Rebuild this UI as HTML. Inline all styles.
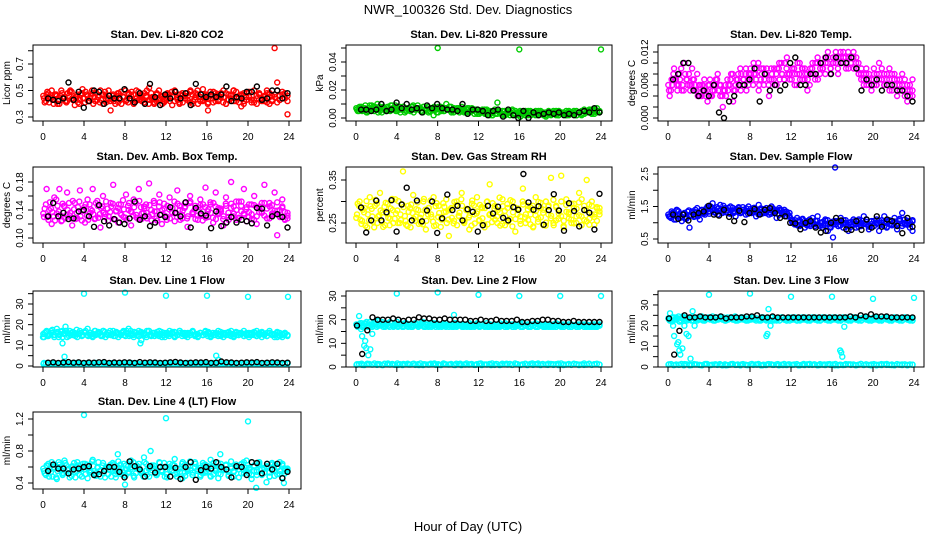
<!DOCTYPE html>
<html><head><meta charset="utf-8"><style>
html,body{margin:0;padding:0;background:#fff;}
svg{display:block;font-family:"Liberation Sans",sans-serif;}
</style></head><body>
<svg id="chart" width="936" height="540" viewBox="0 0 936 540">
<text x="468" y="14" text-anchor="middle" font-size="13">NWR_100326  Std. Dev. Diagnostics</text>
<text x="468" y="531" text-anchor="middle" font-size="13">Hour of Day (UTC)</text>
</svg>
<script>
const hourTicks = [0,4,8,12,16,20,24];

const co2Red = [0.44,0.47,0.41,0.50,0.43,0.46,0.40,0.48,0.45,0.42,0.49,0.44,0.39,0.47,0.43,0.51,0.41,0.46,0.44,0.48,0.42,0.45,0.50,0.40,0.46,0.43,0.35,0.47,0.44,0.41,0.49,0.45,0.42,0.48,0.46,0.40,0.50,0.43,0.47,0.41,0.45,0.52,0.44,0.40,0.48,0.43,0.46,0.42,0.47,0.45,0.39,0.50,0.44,0.41,0.48,0.46,0.43,0.49,0.40,0.45,0.47,0.42,0.51,0.44,0.35,0.46,0.41,0.48,0.43,0.45,0.50,0.40,0.47,0.44,0.42,0.49,0.45,0.38,0.48,0.43,0.46,0.41,0.50,0.44,0.47,0.42,0.45,0.48,0.40,0.46,0.82,0.56,0.43,0.49,0.44,0.32];
const co2RedA = [0.46,0.42,0.48,0.44,0.40,0.47,0.43,0.50,0.45,0.41,0.46,0.49,0.43,0.45,0.40,0.48,0.44,0.47,0.42,0.50,0.45,0.43,0.41,0.47,0.49,0.44,0.42,0.46,0.40,0.48,0.43,0.45,0.50,0.41,0.44,0.47,0.42,0.49,0.45,0.43,0.46,0.40,0.48,0.44,0.42,0.50,0.45,0.41,0.43,0.47,0.49,0.42,0.45,0.40,0.46,0.44,0.48,0.41,0.47,0.43,0.50,0.45,0.42,0.46,0.40,0.49,0.44,0.42,0.47,0.45,0.41,0.48,0.43,0.46,0.50,0.42,0.44,0.47,0.40,0.45,0.49,0.43,0.41,0.46,0.48,0.44,0.42,0.50,0.45,0.43,0.47,0.41,0.46,0.44,0.48,0.42];
const co2RedB = [0.41,0.49,0.45,0.43,0.47,0.40,0.46,0.44,0.42,0.48,0.50,0.43,0.45,0.41,0.47,0.44,0.49,0.42,0.46,0.40,0.48,0.45,0.43,0.47,0.41,0.50,0.44,0.42,0.46,0.48,0.40,0.45,0.43,0.47,0.49,0.41,0.44,0.46,0.42,0.48,0.50,0.43,0.45,0.41,0.47,0.44,0.40,0.46,0.48,0.42,0.45,0.49,0.43,0.47,0.41,0.44,0.46,0.50,0.42,0.48,0.40,0.45,0.43,0.47,0.41,0.44,0.49,0.46,0.42,0.48,0.45,0.40,0.43,0.47,0.50,0.44,0.41,0.46,0.42,0.48,0.45,0.49,0.43,0.40,0.47,0.44,0.46,0.41,0.48,0.42,0.45,0.50,0.43,0.47,0.44,0.46];
const co2Black = [0.44,0.43,0.42,0.44,0.56,0.43,0.49,0.37,0.42,0.50,0.49,0.40,0.46,0.44,0.44,0.51,0.44,0.41,0.48,0.40,0.55,0.45,0.39,0.47,0.44,0.49,0.44,0.48,0.39,0.55,0.47,0.45,0.47,0.45,0.47,0.53,0.42,0.45,0.44,0.49,0.49,0.53,0.43,0.44,0.50,0.50,0.44,0.48];

const presGreen = [0.006,0.008,0.005,0.007,0.004,0.009,0.006,0.008,0.010,0.005,0.007,0.006,0.008,0.005,0.007,0.009,0.006,0.004,0.008,0.006,0.007,0.005,0.009,0.006,0.007,0.005,0.008,0.006,0.004,0.007,0.002,0.006,0.008,0.005,0.007,0.010,0.006,0.004,0.007,0.005,0.006,0.008,0.004,0.006,0.005,0.007,0.003,0.006,0.005,0.004,0.006,0.003,0.005,0.002,0.006,0.011,0.004,0.005,0.003,0.004,0.002,0.005,0.003,0.004,0.001,0.003,0.005,0.002,0.004,0.003,0.005,0.002,0.004,0.003,0.001,0.004,0.002,0.003,0.005,0.002,0.004,0.003,0.002,0.004,0.003,0.005,0.002,0.004,0.003,0.006,0.004,0.005,0.003,0.006,0.004,0.005];
const presGreenA = [0.007,0.005,0.008,0.006,0.004,0.007,0.009,0.005,0.006,0.008,0.004,0.007,0.005,0.006,0.009,0.007,0.005,0.008,0.006,0.004,0.007,0.005,0.008,0.006,0.009,0.007,0.004,0.006,0.008,0.005,0.007,0.006,0.004,0.008,0.005,0.007,0.006,0.008,0.004,0.006,0.007,0.005,0.006,0.004,0.007,0.005,0.006,0.004,0.003,0.005,0.004,0.006,0.002,0.004,0.005,0.003,0.004,0.002,0.005,0.003,0.004,0.006,0.002,0.003,0.005,0.004,0.002,0.003,0.005,0.004,0.002,0.003,0.005,0.004,0.002,0.003,0.004,0.005,0.003,0.002,0.004,0.003,0.005,0.002,0.004,0.003,0.005,0.004,0.002,0.003,0.005,0.004,0.006,0.003,0.005,0.004];
const presGreenB = [0.005,0.007,0.006,0.009,0.005,0.006,0.008,0.007,0.004,0.006,0.008,0.005,0.007,0.009,0.006,0.005,0.007,0.006,0.008,0.005,0.006,0.008,0.004,0.007,0.006,0.005,0.008,0.007,0.005,0.006,0.008,0.004,0.007,0.006,0.005,0.007,0.008,0.005,0.006,0.007,0.004,0.006,0.005,0.007,0.004,0.005,0.006,0.003,0.004,0.006,0.003,0.005,0.004,0.002,0.003,0.005,0.004,0.003,0.002,0.005,0.004,0.003,0.005,0.002,0.004,0.003,0.004,0.005,0.002,0.003,0.004,0.005,0.003,0.002,0.004,0.005,0.003,0.004,0.002,0.005,0.003,0.004,0.002,0.005,0.003,0.004,0.002,0.004,0.005,0.003,0.004,0.006,0.004,0.005,0.007,0.004];
const presOutX = [8,16,24];
const presOutY = [0.050,0.049,0.049];
const presBlack = [0.006,0.006,0.005,0.006,0.010,0.005,0.006,0.011,0.007,0.010,0.006,0.007,0.004,0.009,0.007,0.010,0.007,0.006,0.006,0.005,0.010,0.003,0.006,0.006,0.005,0.002,0.005,0.006,0.001,0.006,0.002,0.000,0.005,0.000,0.004,0.002,0.003,0.004,0.003,0.004,0.002,0.003,0.002,0.004,0.005,0.004,0.007,0.004];

const tempMag = [0.005,0.007,0.009,0.006,0.008,0.005,0.010,0.007,0.006,0.009,0.005,0.008,0.004,0.006,0.005,0.003,0.007,0.005,0.006,0.008,0.004,0.002,0.006,0.005,0.007,0.003,0.006,0.008,0.005,0.007,0.009,0.006,0.008,0.010,0.007,0.005,0.009,0.006,0.008,0.004,0.007,0.009,0.006,0.010,0.008,0.007,0.011,0.008,0.009,0.006,0.008,0.010,0.007,0.009,0.005,0.008,0.010,0.007,0.011,0.009,0.010,0.008,0.012,0.009,0.011,0.010,0.008,0.011,0.012,0.010,0.009,0.011,0.012,0.010,0.008,0.007,0.006,0.009,0.007,0.005,0.008,0.006,0.010,0.007,0.008,0.006,0.009,0.005,0.007,0.004,0.006,0.008,0.005,0.003,0.006,0.004];
const tempMagA = [0.006,0.005,0.008,0.007,0.006,0.009,0.005,0.007,0.008,0.006,0.007,0.005,0.006,0.004,0.007,0.005,0.006,0.004,0.005,0.007,0.006,0.004,0.005,0.007,0.006,0.008,0.005,0.007,0.009,0.006,0.008,0.007,0.009,0.006,0.008,0.010,0.007,0.009,0.008,0.006,0.009,0.007,0.008,0.009,0.010,0.007,0.009,0.008,0.007,0.009,0.006,0.008,0.009,0.007,0.008,0.006,0.009,0.008,0.010,0.008,0.009,0.011,0.010,0.008,0.010,0.011,0.009,0.012,0.010,0.011,0.012,0.010,0.011,0.009,0.010,0.008,0.007,0.008,0.006,0.007,0.009,0.006,0.008,0.007,0.006,0.008,0.007,0.006,0.008,0.005,0.007,0.006,0.004,0.006,0.005,0.007];
const tempMagB = [0.004,0.006,0.007,0.005,0.007,0.006,0.008,0.006,0.005,0.007,0.006,0.004,0.006,0.005,0.004,0.006,0.004,0.006,0.007,0.005,0.006,0.005,0.004,0.006,0.008,0.005,0.007,0.006,0.008,0.007,0.005,0.008,0.007,0.008,0.009,0.006,0.008,0.007,0.009,0.007,0.008,0.006,0.009,0.007,0.008,0.010,0.008,0.007,0.009,0.008,0.010,0.007,0.009,0.008,0.007,0.009,0.008,0.010,0.007,0.010,0.009,0.010,0.011,0.009,0.010,0.012,0.011,0.010,0.011,0.009,0.011,0.010,0.009,0.011,0.008,0.009,0.008,0.006,0.008,0.007,0.006,0.008,0.007,0.009,0.006,0.007,0.005,0.008,0.006,0.007,0.005,0.006,0.007,0.005,0.004,0.005];
const tempBlack = [0.007,0.008,0.010,0.010,0.005,0.004,0.005,0.004,0.006,0.001,0.000,0.003,0.004,0.006,0.006,0.007,0.009,0.003,0.008,0.005,0.006,0.005,0.006,0.010,0.011,0.006,0.006,0.008,0.008,0.010,0.011,0.008,0.011,0.010,0.010,0.011,0.009,0.005,0.007,0.006,0.007,0.005,0.006,0.006,0.005,0.005,0.004,0.003];

const boxMag = [0.130,0.170,0.140,0.120,0.158,0.135,0.170,0.125,0.145,0.165,0.132,0.118,0.150,0.128,0.168,0.140,0.122,0.155,0.136,0.170,0.128,0.146,0.115,0.160,0.134,0.125,0.150,0.176,0.138,0.122,0.148,0.130,0.162,0.140,0.118,0.155,0.133,0.170,0.127,0.145,0.136,0.178,0.125,0.150,0.138,0.162,0.120,0.142,0.130,0.158,0.136,0.124,0.168,0.140,0.128,0.150,0.116,0.160,0.134,0.146,0.126,0.155,0.138,0.172,0.130,0.148,0.122,0.165,0.136,0.142,0.118,0.158,0.130,0.180,0.145,0.126,0.152,0.138,0.170,0.124,0.148,0.134,0.160,0.120,0.145,0.137,0.176,0.128,0.150,0.135,0.165,0.104,0.140,0.155,0.126,0.132];
const boxMagA = [0.135,0.148,0.126,0.142,0.131,0.155,0.138,0.124,0.146,0.133,0.150,0.128,0.141,0.136,0.152,0.125,0.144,0.132,0.148,0.139,0.127,0.153,0.134,0.145,0.130,0.142,0.137,0.149,0.126,0.143,0.135,0.154,0.129,0.146,0.138,0.132,0.150,0.127,0.144,0.136,0.148,0.131,0.140,0.153,0.128,0.145,0.134,0.149,0.126,0.141,0.137,0.152,0.130,0.146,0.133,0.143,0.128,0.150,0.136,0.141,0.132,0.147,0.125,0.144,0.138,0.151,0.129,0.145,0.134,0.140,0.127,0.149,0.136,0.143,0.131,0.152,0.128,0.146,0.135,0.141,0.130,0.148,0.126,0.144,0.137,0.150,0.132,0.142,0.128,0.147,0.135,0.139,0.131,0.145,0.127,0.136];
const boxMagB = [0.142,0.130,0.151,0.137,0.125,0.146,0.133,0.149,0.128,0.140,0.136,0.153,0.127,0.144,0.131,0.139,0.148,0.126,0.141,0.134,0.150,0.129,0.143,0.136,0.152,0.131,0.145,0.127,0.139,0.148,0.133,0.141,0.126,0.150,0.137,0.144,0.129,0.153,0.135,0.142,0.128,0.147,0.134,0.138,0.125,0.151,0.140,0.132,0.146,0.128,0.143,0.135,0.149,0.126,0.139,0.145,0.131,0.152,0.137,0.127,0.144,0.133,0.148,0.129,0.141,0.136,0.150,0.127,0.143,0.138,0.131,0.146,0.126,0.149,0.135,0.140,0.129,0.152,0.133,0.144,0.137,0.127,0.147,0.131,0.142,0.136,0.150,0.128,0.145,0.133,0.139,0.151,0.130,0.143,0.137,0.128];
const boxBlack = [0.131,0.150,0.131,0.136,0.127,0.128,0.138,0.140,0.131,0.116,0.147,0.124,0.118,0.127,0.122,0.120,0.128,0.152,0.126,0.131,0.117,0.122,0.133,0.130,0.144,0.136,0.131,0.151,0.115,0.143,0.135,0.132,0.114,0.138,0.117,0.122,0.130,0.122,0.126,0.124,0.121,0.143,0.142,0.118,0.131,0.134,0.130,0.115];

const rhYellow = [0.270,0.300,0.255,0.285,0.240,0.310,0.265,0.290,0.250,0.320,0.275,0.245,0.295,0.260,0.280,0.305,0.250,0.270,0.370,0.255,0.290,0.240,0.315,0.265,0.280,0.250,0.300,0.235,0.285,0.270,0.310,0.245,0.290,0.260,0.275,0.305,0.220,0.285,0.255,0.300,0.265,0.320,0.250,0.280,0.235,0.295,0.270,0.310,0.255,0.285,0.240,0.300,0.340,0.265,0.290,0.250,0.275,0.305,0.245,0.285,0.260,0.300,0.230,0.280,0.265,0.330,0.250,0.290,0.270,0.240,0.310,0.260,0.285,0.245,0.300,0.270,0.355,0.250,0.290,0.260,0.360,0.240,0.305,0.275,0.250,0.295,0.265,0.320,0.245,0.290,0.350,0.260,0.300,0.270,0.255,0.285];
const rhYellowA = [0.262,0.290,0.248,0.275,0.301,0.256,0.283,0.240,0.295,0.268,0.252,0.288,0.271,0.245,0.306,0.260,0.279,0.250,0.293,0.266,0.243,0.285,0.273,0.255,0.298,0.262,0.247,0.281,0.270,0.302,0.253,0.289,0.264,0.241,0.296,0.276,0.258,0.284,0.249,0.292,0.267,0.305,0.254,0.280,0.263,0.244,0.291,0.272,0.257,0.287,0.246,0.299,0.269,0.252,0.283,0.265,0.309,0.248,0.278,0.294,0.259,0.242,0.286,0.270,0.255,0.300,0.263,0.282,0.247,0.290,0.268,0.253,0.297,0.274,0.244,0.288,0.261,0.304,0.256,0.279,0.266,0.243,0.292,0.271,0.258,0.285,0.250,0.298,0.265,0.281,0.254,0.293,0.269,0.246,0.287,0.277];
const rhYellowB = [0.295,0.258,0.281,0.244,0.270,0.289,0.253,0.304,0.265,0.279,0.241,0.297,0.262,0.284,0.250,0.272,0.301,0.257,0.287,0.246,0.276,0.293,0.260,0.282,0.248,0.270,0.306,0.255,0.285,0.264,0.243,0.296,0.273,0.258,0.288,0.250,0.280,0.262,0.299,0.245,0.274,0.290,0.256,0.283,0.268,0.302,0.249,0.277,0.292,0.261,0.285,0.247,0.271,0.296,0.258,0.280,0.244,0.289,0.266,0.253,0.303,0.275,0.259,0.284,0.248,0.293,0.270,0.257,0.286,0.242,0.278,0.299,0.263,0.281,0.251,0.291,0.267,0.245,0.287,0.272,0.300,0.255,0.276,0.261,0.295,0.249,0.283,0.268,0.305,0.257,0.279,0.246,0.290,0.264,0.284,0.270];
const rhBlack = [0.286,0.228,0.256,0.302,0.256,0.275,0.303,0.230,0.293,0.332,0.256,0.302,0.254,0.279,0.300,0.227,0.261,0.316,0.280,0.290,0.256,0.282,0.276,0.230,0.245,0.290,0.272,0.288,0.262,0.256,0.287,0.281,0.364,0.298,0.281,0.289,0.246,0.280,0.317,0.279,0.232,0.296,0.278,0.242,0.280,0.274,0.235,0.318];

const flowBlue = [1.20,1.35,1.10,1.40,1.25,1.05,1.30,1.15,0.85,1.35,1.20,1.45,1.10,1.30,1.25,1.50,1.35,1.60,1.40,1.25,1.55,1.35,1.45,1.30,1.50,1.35,1.20,1.45,1.30,1.40,1.25,1.50,1.35,1.45,1.20,1.55,1.40,1.30,1.45,1.25,1.50,1.35,1.15,1.45,1.30,1.40,1.20,1.30,1.05,0.95,1.15,0.90,1.10,0.85,1.05,0.95,1.15,0.90,1.20,1.00,0.85,1.10,0.75,0.95,0.55,1.05,0.90,1.15,0.85,1.00,0.75,0.95,1.10,0.85,1.05,0.90,1.20,0.95,0.80,1.05,0.90,1.10,0.75,1.00,1.20,0.85,1.05,0.95,1.15,0.80,1.10,1.30,0.95,1.05,0.85,0.75];
const flowBlueA = [1.25,1.15,1.30,1.10,1.35,1.20,1.28,1.12,1.38,1.22,1.18,1.32,1.26,1.40,1.30,1.45,1.28,1.42,1.32,1.48,1.36,1.30,1.44,1.38,1.28,1.46,1.34,1.40,1.30,1.48,1.36,1.28,1.42,1.32,1.38,1.26,1.44,1.34,1.30,1.40,1.28,1.42,1.36,1.24,1.38,1.30,1.34,1.22,1.10,1.02,0.95,1.08,0.98,1.05,0.92,1.10,1.00,0.96,1.06,0.90,1.02,0.94,1.08,0.88,1.00,0.95,1.05,0.92,0.98,1.08,0.90,1.02,0.94,1.06,0.88,1.00,0.96,1.10,0.92,1.04,0.90,0.98,1.06,0.94,1.02,0.88,1.08,0.96,1.00,0.92,1.05,0.98,1.10,0.94,1.02,1.08];
const flowBlueB = [1.18,1.30,1.22,1.38,1.15,1.26,1.12,1.34,1.24,1.30,1.40,1.20,1.36,1.28,1.42,1.34,1.50,1.38,1.30,1.44,1.40,1.52,1.32,1.46,1.38,1.30,1.42,1.48,1.34,1.40,1.44,1.36,1.30,1.46,1.40,1.34,1.28,1.42,1.36,1.32,1.44,1.30,1.38,1.40,1.26,1.34,1.28,1.18,1.00,1.08,0.92,1.04,1.12,0.96,1.02,0.90,0.98,1.06,0.94,1.00,0.92,1.06,0.98,0.85,1.04,0.96,0.90,1.02,1.08,0.94,1.00,0.88,1.04,0.96,1.10,0.92,0.98,1.02,0.88,0.96,1.06,1.00,0.94,1.08,0.90,1.02,0.96,0.92,1.04,0.98,1.12,0.90,1.00,1.06,0.96,1.04];
const flowOutX = [16.3];
const flowOutY = [2.7];
const flowBlack = [1.25,1.12,1.25,1.07,1.25,1.30,1.35,1.52,1.25,1.22,1.40,1.18,1.05,1.37,1.02,1.30,1.42,1.25,1.40,1.45,1.30,1.15,1.20,1.00,0.98,0.80,1.00,1.05,0.85,0.70,0.75,1.00,1.15,1.07,0.80,0.78,1.05,0.78,1.10,0.85,1.20,0.88,1.10,1.05,0.90,0.68,1.15,0.88];

const l1Cyan = [14,17,15,16,14,18,15,17,16,14,17,15,16,14,17,15,16,18,15,14,17,16,15,17,14,16,15,17,16,14,15,17,16,18,15,14,16,17,15,16,14,17,15,16,15,17,14,16,15,17,16,14,15,17,16,15,14,16,17,15,14,16,15,17,16,14,15,16,17,15,14,16,15,17,14,16,15,16,17,15,14,16,15,17,16,14,15,16,17,15,14,16,15,14,16,15];
const l1CyanA = [15.5,16.5,14.5,17,15,16,14,16.5,15.5,17,14.5,16,15,17.5,15.5,14.5,16.5,15,16,14.5,17,15.5,16,14.5,16.5,15,17,15.5,14.5,16,15,16.5,14.5,15.5,17,15,16,14.5,16.5,15.5,15,17,14.5,16,15.5,14.5,16.5,15,16,14.5,15.5,16.5,15,17,14.5,16,15.5,15,16.5,14.5,15.5,16,15,16.5,14.5,15.5,16,15,14.5,16.5,15.5,15,16,14.5,15.5,16.5,15,16,14.5,15.5,16,15,16.5,14.5,15.5,16,15,14.5,16,15.5,15,16.5,14.5,15.5,16,15];
const l1CyanB = [16,14.5,15.5,17.5,15,16.5,15.5,14,17,16,15,16.5,14.5,15.5,16,15,17,14.5,16,15.5,15,16.5,14.5,17,15.5,16,15,14.5,16.5,15.5,16,15,17,14.5,15.5,16.5,15,14.5,16,15.5,17,15,16,14.5,16.5,15.5,15,14,16,15.5,16.5,14.5,15,16,15.5,14.5,16,15,16.5,15.5,14.5,16,15,15.5,16.5,14.5,15,16,15.5,14.5,16,15,16.5,15.5,14.5,15,16,15.5,14.5,16,15,15.5,16,14.5,15,16.5,15.5,14.5,16,15,15.5,14,16,15,15.5,14.5];
const l1CyanLow = [1.5,1.0,1.2,0.8,1.3,1.0,1.4,0.9,1.2,1.0,1.5,0.8,1.1,1.3,0.9,1.2,1.0,1.4,0.8,1.1,1.3,0.9,1.2,1.0,1.4,0.8,1.1,1.3,0.9,1.2,1.0,1.5,0.8,1.1,1.3,0.9,1.2,1.0,1.4,0.8,1.1,1.3,0.9,1.2,1.0,1.4,0.8,1.1];
const l1CyanLow2 = [1.0,1.3,0.8,1.2,1.5,0.9,1.1,1.4,0.7,1.2,1.0,1.3,0.9,1.5,1.1,0.8,1.2,1.4,1.0,0.9,1.3,1.1,0.8,1.5,1.2,1.0,1.4,0.9,1.1,1.3,0.8,1.2,1.0,1.5,0.9,1.1,1.4,1.0,0.8,1.3,1.2,0.9,1.1,1.5,1.0,0.8,1.3,1.2,1.0,1.4,0.9,1.1,1.3,0.8,1.2,1.0,1.5,0.9,1.1,1.4,1.0,0.8,1.3,1.2,0.9,1.1,1.5,1.0,0.8,1.3,1.2,1.0,1.4,0.9,1.1,1.3,0.8,1.2,1.0,1.5,0.9,1.1,1.4,1.0,0.8,1.3,1.2,0.9,1.1,1.5,1.0,0.8,1.3,1.2,1.0,1.4];
const l1OutX = [0,1.9,2.1,2.2,4,8,9.5,9.6,12,16,16.9,17.1,20,23.9];
const l1OutY = [14,11,4.5,19,35,35.5,11,12.5,34,34,5,3,33.5,33.5];
const l1Black = [1.6,1.8,1.5,1.7,1.9,1.6,1.8,1.5,1.7,1.6,1.8,1.9,1.5,1.7,1.6,1.8,1.7,1.5,1.9,1.6,1.8,1.7,1.5,1.6,1.8,2.0,1.7,1.5,1.6,1.8,1.7,1.9,1.5,1.6,2.2,1.8,1.7,1.5,1.6,1.8,1.7,1.9,1.5,1.6,1.8,1.7,1.5,1.6];

const l2Cyan = [17.5,18,17,18.5,17.5,19,17,18,19.5,17.5,18,17,18.5,19,17.5,18,17,18.5,17.5,18,17,18,17.5,18.5,17,18,17.5,18,17,18.5,17.5,18,17,18,17.5,18.5,17,18,17.5,17,18,17.5,18,17,18.5,17.5,17,18,17.5,18,17,17.5,18,17,17.5,18,17,17.5,18.5,17,17.5,18,17,17.5,18,17,17.5,18,17,17.5,17,18,17.5,17,17.5,18,17,17.5,17,18,17.5,17,17.5,18,17,17.5,17,17.5,18,17,17.5,17,17.5,18,17,17.5];
const l2CyanA = [18,17.5,18.5,17,19,17.5,18,18.5,17,18,19,17.5,18,17,18.5,17.5,19,18,17,18.5,17.5,18,17,18.5,18,17.5,19,17,18,17.5,18.5,17,18,17.5,18.5,17,18,17.5,17,18.5,17.5,18,17,17.5,18.5,17,18,17.5,17,18,17.5,18.5,17,17.5,18,17,18.5,17.5,17,18,17.5,17,18,17.5,18.5,17,17.5,18,17,17.5,18.5,17,18,17.5,17,18,17.5,17,18.5,17.5,17,18,17.5,17,18,17.5,17,18,17.5,17,18,17.5,17,18,17,17.5];
const l2CyanB = [17,18.5,17.5,18,17,18,17.5,19,17.5,18.5,17,18,17.5,18.5,17,18,17.5,18,17,18.5,18,17,17.5,18,17.5,18.5,17,18,17.5,17,18,18.5,17.5,17,18,17.5,18,17,18.5,17.5,18,17,17.5,18,17,18,17.5,18.5,17,18,17.5,17,18,17.5,17,18,17.5,18,17,17.5,18,17,17.5,18,17,18.5,17.5,17,18,17.5,17,18,17.5,17,18,17,17.5,18,17,17.5,18,17,17.5,18,17,17.5,18,17,17.5,18,17,17.5,18,17,17.5,18];
const l2CyanLow = [1.2,0.9,1.4,1.0,1.3,0.8,1.5,1.1,0.9,1.3,1.0,1.4,0.8,1.2,1.0,1.5,0.9,1.3,1.1,0.8,1.4,1.0,1.2,0.9,1.5,1.1,0.8,1.3,1.0,1.4,0.9,1.2,1.1,0.8,1.5,1.0,1.3,0.9,1.2,1.4,0.8,1.1,1.3,1.0,0.9,1.4,1.2,1.0];
const l2CyanLow2 = [0.9,1.2,1.4,0.8,1.1,1.3,1.0,1.5,0.9,1.2,0.8,1.4,1.1,1.0,1.3,0.9,1.5,1.2,0.8,1.1,1.4,1.0,1.3,0.9,1.2,1.5,0.8,1.1,1.0,1.4,1.3,0.9,1.2,0.8,1.5,1.1,1.0,1.3,0.9,1.4,1.2,0.8,1.1,1.5,1.0,1.3,0.9,1.2,1.4,0.8,1.1,1.0,1.3,1.5,0.9,1.2,0.8,1.4,1.1,1.0,1.3,0.9,1.5,1.2,0.8,1.1,1.4,1.0,1.3,0.9,1.2,1.5,0.8,1.1,1.0,1.4,1.3,0.9,1.2,0.8,1.5,1.1,1.0,1.3,0.9,1.4,1.2,0.8,1.1,1.5,1.0,1.3,0.9,1.2,1.4,1.0];
const l2OutX = [0.3,0.5,0.6,0.8,0.9,1.0,1.2,1.4,1.6,9.6,4,8,12,16,20,24];
const l2OutY = [21.5,16,13,9,11,8,5,7.5,14,22,31,31.5,30.5,30,30,30];
const l2Black = [17.5,5.5,15.5,21,20,20,20,20.5,20,19.5,20,20,21,20.5,20.5,20,20,20.5,20,20,20,20,19.5,19.5,20,19.5,19.5,20,19.5,19.5,19.5,20,19,19,19.5,19.5,20,20,19.5,19.5,19,19,19.5,19,19,19,19,19];

const l3Cyan = [23,22.5,24,23,22,23.5,24,22.5,23,24,23.5,22.5,23,24,22.5,23.5,23,24.5,22.5,23,24,23.5,22.5,23,24,23,22.5,23.5,24,23,22.5,23.5,23,24,22.5,23,24,23.5,22.5,23,24,23,22.5,23.5,24,23,22.5,23.5,23,24,22.5,23,24,23.5,22.5,23,24,23,22.5,23.5,24,23,22.5,23.5,23,24,22.5,23,24,23.5,22.5,23,24,23,22.5,23.5,24,23,22.5,23.5,23,24,22.5,23,24,23.5,22.5,23,24,23,22.5,23.5,24,23,22.5,23.5];
const l3CyanA = [23.5,22.5,24,23,24.5,22.5,23.5,24,23,22.5,24,23.5,23,24.5,22.5,23.5,24,23,22.5,24,23.5,23,22.5,24,23.5,23,24.5,22.5,23,24,23.5,22.5,23,24,23.5,23,22.5,24,23,23.5,24,22.5,23,23.5,24,23,22.5,23.5,24,23,22.5,23.5,24,23,23.5,22.5,24,23,23.5,22.5,24,23,23.5,22.5,24,23,23.5,22.5,24,23,23.5,22.5,24,23,23.5,22.5,24,23,23.5,22.5,24,23,23.5,22.5,24,23,23.5,22.5,24,23,23.5,22.5,24,23,23.5,22.5];
const l3CyanB = [22.5,24,23,23.5,22,24.5,23,23.5,24,22.5,23,24,23.5,22.5,23,24,23.5,22.5,24,23,23.5,24,22.5,23,23.5,24,22.5,23,24,23.5,22.5,23,24,23,23.5,22.5,24,23,23.5,22.5,24,23,23.5,22.5,24,23,23.5,22.5,23,24,23.5,22.5,23,24,23,22.5,23.5,24,23,22.5,23.5,24,23,22.5,23.5,24,23,22.5,23.5,24,23,22.5,23.5,24,23,22.5,23.5,24,23,22.5,23.5,24,23,22.5,23.5,24,23,22.5,23.5,24,23,22.5,23.5,24,23,22.5];
const l3CyanLow = [1.3,0.9,1.1,1.4,0.8,1.2,1.0,1.5,0.9,1.3,1.1,0.8,1.4,1.0,1.2,0.9,1.5,1.1,0.8,1.3,1.0,1.4,0.9,1.2,1.1,0.8,1.5,1.0,1.3,0.9,1.2,1.4,0.8,1.1,1.0,1.3,0.9,1.5,1.2,0.8,1.1,1.4,1.0,0.9,1.3,1.2,0.8,1.1];
const l3CyanLow2 = [1.1,1.4,0.9,1.2,1.0,1.5,0.8,1.3,1.1,0.9,1.4,1.2,1.0,0.8,1.3,1.5,0.9,1.1,1.2,1.0,1.4,0.8,1.3,0.9,1.1,1.5,1.0,1.2,0.8,1.4,1.1,0.9,1.3,1.0,1.2,1.5,0.8,1.1,0.9,1.4,1.3,1.0,1.2,0.8,1.1,1.5,0.9,1.3,1.0,1.2,1.4,0.8,1.1,0.9,1.3,1.5,1.0,1.2,0.8,1.4,1.1,0.9,1.3,1.0,1.2,1.5,0.8,1.1,0.9,1.4,1.3,1.0,1.2,0.8,1.1,1.5,0.9,1.3,1.0,1.2,1.4,0.8,1.1,0.9,1.3,1.5,1.0,1.2,0.8,1.4,1.1,0.9,1.3,1.0,1.2,1.1];
const l3OutX = [0.2,0.4,0.5,0.6,0.8,0.9,1.0,1.1,1.2,1.4,1.6,1.8,2.0,2.2,2.4,2.6,4,8,9.6,9.7,9.8,10,12,16,16.8,16.9,17.0,17.2,20,24];
const l3OutY = [26,22,20,15,24,11,12,8,6,9,20,16,15,4,27,20,35,35.5,15,16,28,20,34,34,8,7,5,19.5,33,33.5];
const l3Black = [23.5,6,17.5,25,24,24,24.5,24,24,24,24.5,23.5,24,24,24,24.5,24.5,25,24,24,24.5,24,24,24,24,24,24,24,24,24,24,24,24,24,24,24.5,24,25,24.5,25.5,24.5,24.5,24.5,24,24,24,24,24];

const l4Cyan = [0.55,0.62,0.48,0.66,0.58,0.45,0.63,0.52,0.68,0.57,0.47,0.61,0.54,0.66,0.50,0.59,0.64,0.46,0.56,0.69,0.52,0.60,0.48,0.65,0.57,0.51,0.63,0.55,0.47,0.67,0.58,0.50,0.62,0.54,0.68,0.49,0.59,0.64,0.52,0.72,0.56,0.48,0.62,0.58,0.50,0.66,0.54,0.60,0.47,0.64,0.56,0.70,0.52,0.58,0.46,0.63,0.55,0.67,0.50,0.60,0.57,0.48,0.65,0.53,0.61,0.69,0.51,0.58,0.46,0.64,0.56,0.62,0.49,0.67,0.55,0.59,0.47,0.63,0.52,0.68,0.57,0.45,0.61,0.54,0.66,0.50,0.59,0.64,0.48,0.56,0.62,0.51,0.66,0.47,0.58,0.55];
const l4CyanA = [0.58,0.50,0.64,0.54,0.60,0.47,0.66,0.56,0.52,0.62,0.58,0.49,0.65,0.55,0.61,0.48,0.57,0.63,0.53,0.67,0.50,0.59,0.55,0.62,0.47,0.60,0.56,0.65,0.51,0.58,0.63,0.54,0.49,0.61,0.57,0.66,0.52,0.60,0.55,0.48,0.64,0.58,0.53,0.62,0.50,0.59,0.56,0.65,0.51,0.60,0.55,0.62,0.48,0.58,0.64,0.53,0.57,0.61,0.50,0.66,0.55,0.59,0.52,0.63,0.57,0.49,0.61,0.55,0.65,0.51,0.58,0.62,0.54,0.60,0.48,0.63,0.57,0.52,0.66,0.55,0.59,0.50,0.62,0.56,0.64,0.51,0.58,0.61,0.53,0.65,0.49,0.59,0.55,0.62,0.52,0.57];
const l4CyanB = [0.52,0.61,0.57,0.48,0.63,0.55,0.59,0.50,0.65,0.56,0.53,0.60,0.47,0.62,0.57,0.64,0.51,0.58,0.54,0.61,0.49,0.66,0.56,0.52,0.60,0.57,0.48,0.63,0.55,0.59,0.51,0.64,0.57,0.53,0.60,0.47,0.62,0.58,0.54,0.66,0.50,0.59,0.56,0.61,0.52,0.65,0.55,0.48,0.60,0.57,0.63,0.51,0.58,0.54,0.66,0.49,0.61,0.56,0.53,0.64,0.57,0.50,0.62,0.55,0.59,0.48,0.65,0.56,0.52,0.60,0.57,0.63,0.50,0.58,0.54,0.61,0.47,0.64,0.56,0.59,0.52,0.66,0.55,0.50,0.62,0.57,0.53,0.60,0.48,0.63,0.56,0.59,0.51,0.64,0.55,0.58];
const l4OutX = [4,12,20,7.3,10.5,17.3,20.8,8,21.8,23.5];
const l4OutY = [1.25,1.21,1.17,0.76,0.80,0.76,0.34,0.38,0.41,0.40];
const l4Black = [0.55,0.63,0.58,0.58,0.52,0.57,0.58,0.60,0.61,0.50,0.51,0.55,0.60,0.60,0.54,0.47,0.67,0.61,0.57,0.48,0.61,0.53,0.60,0.60,0.48,0.59,0.45,0.60,0.66,0.44,0.56,0.60,0.58,0.66,0.60,0.57,0.47,0.61,0.60,0.50,0.66,0.65,0.52,0.64,0.57,0.64,0.46,0.54];

const svg = document.getElementById('chart');
const NS = 'http://www.w3.org/2000/svg';
function mk(tag, attrs, parent){const e=document.createElementNS(NS,tag);for(const k in attrs)e.setAttribute(k,attrs[k]);(parent||svg).appendChild(e);return e;}

const cols = [{l:33,r:301,x0:43,x1:289},{l:346,r:612,x0:356,x1:601},{l:658,r:924,x0:668,x1:914}];
const rows = [{t:45,b:121},{t:167,b:243},{t:291,b:367},{t:412,b:489}];

const panels = [
 {id:'co2',title:'Stan. Dev. Li-820 CO2',ylab:'Licor ppm',c:0,r:0,ya:[0.3,117],yb:[0.7,64],ticks:[0.3,0.4,0.5,0.6,0.7,0.8],labels:['0.3','0.5','0.7'],labelVals:[0.3,0.5,0.7],
  series:[{y:co2Red,col:'#ff0000'},{y:co2RedA,col:'#ff0000',off:0.03},{y:co2RedB,col:'#ff0000',off:0.17},{y:co2Black,col:'#000',off:0.5}]},
 {id:'pressure',title:'Stan. Dev. Li-820 Pressure',ylab:'kPa',c:1,r:0,ya:[0,118],yb:[0.04,62],ticks:[0,0.01,0.02,0.03,0.04,0.05],labels:['0.00','0.02','0.04'],labelVals:[0,0.02,0.04],
  series:[{y:presGreen,col:'#00cc00'},{y:presGreenA,col:'#00cc00',off:0.03},{y:presGreenB,col:'#00cc00',off:0.17},{x:presOutX,y:presOutY,col:'#00cc00'},{y:presBlack,col:'#000',off:0.5}]},
 {id:'temp',title:'Stan. Dev. Li-820 Temp.',ylab:'degrees C',c:2,r:0,ya:[0,118],yb:[0.012,52],ticks:[0,0.002,0.004,0.006,0.008,0.010,0.012],labels:['0.000','0.006','0.012'],labelVals:[0,0.006,0.012],
  series:[{y:tempMag,col:'#ff00ff'},{y:tempMagA,col:'#ff00ff',off:0.03},{y:tempMagB,col:'#ff00ff',off:0.17},{y:tempBlack,col:'#000',off:0.5}]},
 {id:'ambbox',title:'Stan. Dev. Amb. Box Temp.',ylab:'degrees C',c:0,r:1,ya:[0.10,238],yb:[0.18,182],ticks:[0.10,0.12,0.14,0.16,0.18],labels:['0.10','0.14','0.18'],labelVals:[0.10,0.14,0.18],
  series:[{y:boxMag,col:'#ff00ff'},{y:boxMagA,col:'#ff00ff',off:0.03},{y:boxMagB,col:'#ff00ff',off:0.17},{y:boxBlack,col:'#000',off:0.5}]},
 {id:'rh',title:'Stan. Dev. Gas Stream RH',ylab:'percent',c:1,r:1,ya:[0.25,223],yb:[0.35,180],ticks:[0.25,0.30,0.35],labels:['0.25','0.35'],labelVals:[0.25,0.35],
  series:[{y:rhYellow,col:'#ffff00'},{y:rhYellowA,col:'#ffff00',off:0.03},{y:rhYellowB,col:'#ffff00',off:0.17},{y:rhBlack,col:'#000',off:0.5}]},
 {id:'sampleflow',title:'Stan. Dev. Sample Flow',ylab:'ml/min',c:2,r:1,ya:[0.5,239],yb:[2.5,174],ticks:[0.5,1.0,1.5,2.0,2.5],labels:['0.5','1.5','2.5'],labelVals:[0.5,1.5,2.5],
  series:[{y:flowBlue,col:'#0000ff'},{y:flowBlueA,col:'#0000ff',off:0.03},{y:flowBlueB,col:'#0000ff',off:0.17},{x:flowOutX,y:flowOutY,col:'#0000ff'},{y:flowBlack,col:'#000',off:0.5}]},
 {id:'line1',title:'Stan. Dev. Line 1 Flow',ylab:'ml/min',c:0,r:2,ya:[0,366],yb:[30,304],ticks:[0,5,10,15,20,25,30,35],labels:['0','10','20','30'],labelVals:[0,10,20,30],
  series:[{y:l1Cyan,col:'#00ffff'},{y:l1CyanA,col:'#00ffff',off:0.03},{y:l1CyanB,col:'#00ffff',off:0.17},{y:l1CyanLow,col:'#00ffff'},{y:l1CyanLow2,col:'#00ffff',off:0.05},{x:l1OutX,y:l1OutY,col:'#00ffff'},{y:l1Black,col:'#000',off:0.5}]},
 {id:'line2',title:'Stan. Dev. Line 2 Flow',ylab:'ml/min',c:1,r:2,ya:[0,367],yb:[30,296],ticks:[0,5,10,15,20,25,30],labels:['0','10','20','30'],labelVals:[0,10,20,30],
  series:[{y:l2Cyan,col:'#00ffff'},{y:l2CyanA,col:'#00ffff',off:0.03},{y:l2CyanB,col:'#00ffff',off:0.17},{y:l2CyanLow,col:'#00ffff'},{y:l2CyanLow2,col:'#00ffff',off:0.05},{x:l2OutX,y:l2OutY,col:'#00ffff'},{y:l2Black,col:'#000'}]},
 {id:'line3',title:'Stan. Dev. Line 3 Flow',ylab:'ml/min',c:2,r:2,ya:[0,367],yb:[30,305],ticks:[0,5,10,15,20,25,30,35],labels:['0','10','20','30'],labelVals:[0,10,20,30],
  series:[{y:l3Cyan,col:'#00ffff'},{y:l3CyanA,col:'#00ffff',off:0.03},{y:l3CyanB,col:'#00ffff',off:0.17},{y:l3CyanLow,col:'#00ffff'},{y:l3CyanLow2,col:'#00ffff',off:0.05},{x:l3OutX,y:l3OutY,col:'#00ffff'},{y:l3Black,col:'#000'}]},
 {id:'line4',title:'Stan. Dev. Line 4 (LT) Flow',ylab:'ml/min',c:0,r:3,ya:[0.4,483],yb:[1.2,419],ticks:[0.4,0.6,0.8,1.0,1.2],labels:['0.4','0.8','1.2'],labelVals:[0.4,0.8,1.2],
  series:[{y:l4Cyan,col:'#00ffff'},{y:l4CyanA,col:'#00ffff',off:0.03},{y:l4CyanB,col:'#00ffff',off:0.17},{x:l4OutX,y:l4OutY,col:'#00ffff'},{y:l4Black,col:'#000',off:0.5}]}
];

panels.forEach(p=>{
  const C=cols[p.c], R=rows[p.r];
  const g=mk('g',{});
  
  
  const xs=h=>C.x0+(C.x1-C.x0)*h/24;
  const ys=v=>p.ya[1]+(p.yb[1]-p.ya[1])*(v-p.ya[0])/(p.yb[0]-p.ya[0]);
  const t=mk('text',{x:(C.l+C.r)/2,y:R.t-7,'text-anchor':'middle','font-size':'11','font-weight':'bold'},g);
  t.textContent=p.title;
  
  
  const pg=mk('g',{fill:'none','stroke-width':'1.4'},g);
  
  
  p.series.forEach(s=>{
    const n=s.y.length;
    const o=(s.off===undefined)?0.1:s.off;
    s.y.forEach((v,i)=>{
      const h = s.x ? s.x[i] : o + i*(23.85-o)/(n-1);
      const c=mk('circle',{cx:xs(h).toFixed(1),cy:ys(v).toFixed(1),r:'2.5',stroke:s.col},pg);
      
      
    });
  });
  const b=mk('rect',{x:C.l,y:R.t,width:C.r-C.l,height:R.b-R.t,fill:'none',stroke:'#000','stroke-width':'1'},g);
  
  
  const xa=mk('g',{stroke:'#000','stroke-width':'1'},g);
  
  
  mk('line',{x1:xs(0),x2:xs(24),y1:R.b,y2:R.b},xa);
  hourTicks.forEach(h=>{
    mk('line',{x1:xs(h),x2:xs(h),y1:R.b,y2:R.b+5},xa);
    const tl=mk('text',{x:xs(h),y:R.b+19,'text-anchor':'middle','font-size':'10',stroke:'none',fill:'#000'},g);
    tl.textContent=h;
    
    
  });
  const ya=mk('g',{stroke:'#000','stroke-width':'1'},g);
  
  
  const tk=p.ticks;
  mk('line',{x1:C.l,x2:C.l,y1:ys(tk[0]),y2:ys(tk[tk.length-1])},ya);
  tk.forEach(v=>mk('line',{x1:C.l,x2:C.l-5,y1:ys(v),y2:ys(v)},ya));
  p.labels.forEach((lb,i)=>{
    const y=ys(p.labelVals[i]), x=C.l-10;
    const tl=mk('text',{x:x,y:y,'text-anchor':'middle','font-size':'10',transform:`rotate(-90 ${x} ${y})`},g);
    tl.textContent=lb;
    
    
  });
  const yx=C.l-23, yy=(R.t+R.b)/2;
  const yl=mk('text',{x:yx,y:yy,'text-anchor':'middle','font-size':'10',transform:`rotate(-90 ${yx} ${yy})`},g);
  yl.textContent=p.ylab;
  
  
});
</script>
</body></html>
